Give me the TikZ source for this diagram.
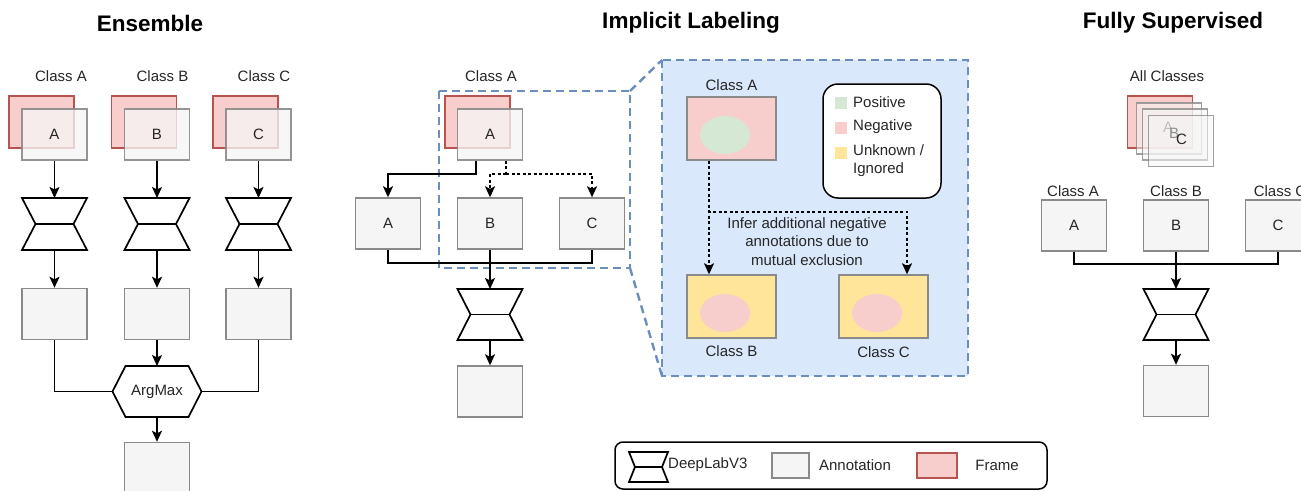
\documentclass[tikz,border=0pt]{standalone}
\usepackage{fontspec}
\setmainfont{Liberation Sans}
\usetikzlibrary{arrows.meta,calc,shapes.geometric}

\definecolor{annofill}{HTML}{F5F5F5}
\definecolor{annodraw}{HTML}{8A8A8A}
\definecolor{framefill}{HTML}{F8CECC}
\definecolor{framedraw}{HTML}{B85450}
\definecolor{panelfill}{HTML}{DAE8FC}
\definecolor{paneledge}{HTML}{6C8EBF}
\definecolor{posfill}{HTML}{D5E8D4}
\definecolor{negfill}{HTML}{F8CECC}
\definecolor{unkfill}{HTML}{FFE599}

\tikzset{
  lbl/.style={font=\fontsize{15}{18.5}\selectfont, inner sep=0, text=black!85},
  ttl/.style={font=\fontsize{22.5}{27}\selectfont\bfseries, inner sep=0},
  anno/.style={draw=annodraw, fill=annofill, line width=1.4pt, minimum width=65pt,
    minimum height=51pt, inner sep=0, font=\fontsize{15}{18}\selectfont, text=black!85},
  annot/.style={anno, fill opacity=0.78, draw opacity=0.9, text opacity=1},
  frm/.style={draw=framedraw, fill=framefill, line width=1.4pt, minimum width=65pt,
    minimum height=52pt, inner sep=0},
  conn/.style={line width=1.7pt, black},
  arr/.style={conn, -{Stealth[length=11pt,width=10pt,inset=2.5pt]}},
  darr/.style={arr, dash pattern=on 3pt off 2.5pt},
  dline/.style={conn, dash pattern=on 3pt off 2.5pt},
  bluedash/.style={draw=paneledge, line width=2.4pt, dash pattern=on 8pt off 5pt},
  swatch/.style={minimum width=12pt, minimum height=12pt, inner sep=0},
  pic/.style={draw=annodraw, line width=1.4pt, minimum width=89pt, minimum height=63pt, inner sep=0},
  blob/.style={ellipse, minimum width=50pt, minimum height=38pt, inner sep=0},
}

% hourglass-shaped network block: name, centre, width, height, waist inset
\newcommand\hglass[5]{%
  \node[inner sep=0, outer sep=0, minimum width=#3, minimum height=#4] (#1) at (#2) {};
  \draw[conn, fill=white, line join=miter] (#1.north west) -- (#1.north east)
    -- ([xshift=-#5]#1.east) -- (#1.south east) -- (#1.south west)
    -- ([xshift=#5]#1.west) -- cycle;
  \draw[conn] ([xshift=#5]#1.west) -- ([xshift=-#5]#1.east);
}

% hexagonal combination block: name, centre, width, height, point inset, text
\newcommand\hexblock[6]{%
  \node[inner sep=0, outer sep=0, minimum width=#3, minimum height=#4] (#1) at (#2) {};
  \draw[conn, fill=white, line join=miter] (#1.west) -- ([xshift=#5]#1.north west)
    -- ([xshift=-#5]#1.north east) -- (#1.east) -- ([xshift=-#5]#1.south east)
    -- ([xshift=#5]#1.south west) -- cycle;
  \node[lbl] at (#1.center) {#6};
}

\begin{document}
\begin{tikzpicture}[x=1pt, y=-1pt]
\useasboundingbox (0,0) rectangle (1301,490);

%% ---------------- Ensemble ----------------
\node[ttl] (tEns) at (150,23) {Ensemble};

\node[lbl] (lEA) at (61,76) {Class A};
\node[lbl] (lEB) at (162.5,76) {Class B};
\node[lbl] (lEC) at (264,76) {Class C};

\node[frm] (fEA) at (41.5,122) {};
\node[annot] (aEA) at (54.5,134.5) {A};
\node[frm] (fEB) at (144,122) {};
\node[annot] (aEB) at (157,134.5) {B};
\node[frm] (fEC) at (245.5,122) {};
\node[annot] (aEC) at (258.5,134.5) {C};

\hglass{hEA}{54.5,224}{65pt}{52pt}{13.5pt}
\hglass{hEB}{157,224}{65pt}{52pt}{13.5pt}
\hglass{hEC}{258.5,224}{65pt}{52pt}{13.5pt}

\node[anno] (oEA) at (54.5,314) {};
\node[anno] (oEB) at (157,314) {};
\node[anno] (oEC) at (258.5,314) {};

\hexblock{amax}{157,391.5}{89pt}{51pt}{13pt}{ArgMax}
\node[anno] (oE) at (157,468) {};

\draw[arr] (aEA.south) -- (hEA.north);
\draw[arr] (aEB.south) -- (hEB.north);
\draw[arr] (aEC.south) -- (hEC.north);
\draw[arr] (hEA.south) -- (oEA.north);
\draw[arr] (hEB.south) -- (oEB.north);
\draw[arr] (hEC.south) -- (oEC.north);
\draw[conn] (oEA.south) |- (amax.west);
\draw[conn] (oEC.south) |- (amax.east);
\draw[arr] (oEB.south) -- (amax.north);
\draw[arr] (amax.south) -- (oE.north);

%% ---------------- Implicit Labeling ----------------
\node[ttl] (tImp) at (691,23) {Implicit Labeling};

% zoom region and detail panel
\coordinate (zNW) at (439,91);
\coordinate (zNE) at (630,91);
\coordinate (zSE) at (630,268);
\coordinate (zSW) at (439,268);
\coordinate (pNW) at (662,60);
\coordinate (pSE) at (968,376);
\coordinate (pSW) at (662,376);
\draw[bluedash] (zNW) rectangle (zSE);
\draw[bluedash] (zNE) -- (pNW);
\draw[bluedash] (zSE) -- (pSW);
\draw[bluedash, fill=panelfill] (pNW) rectangle (pSE);

\node[lbl] (lIA) at (491,76) {Class A};
\node[frm] (fIA) at (477.5,122) {};
\node[annot] (aIA) at (490,134.5) {A};

\node[anno] (rA) at (388,223.5) {A};
\node[anno] (rB) at (490,223.5) {B};
\node[anno] (rC) at (592,223.5) {C};

\hglass{hI}{490,314.5}{65pt}{51pt}{13pt}
\node[anno] (oI) at (490,391.5) {};

\draw[arr] ([xshift=-14pt]aIA.south) -- ++(0,13) -| (rA.north);
\draw[dline] ([xshift=16pt]aIA.south) -- ++(0,13);
\draw[darr] ([xshift=16pt,yshift=-13pt]aIA.south) -| (rB.north);
\draw[darr] ([xshift=16pt,yshift=-13pt]aIA.south) -| (rC.north);
\draw[conn] (rA.south) -- ++(0,13) -| (rC.south);
\draw[arr] (rB.south) -- (hI.north);
\draw[arr] (hI.south) -- (oI.north);

% detail panel content
\node[lbl] (lPA) at (731.5,85) {Class A};
\node[pic, fill=negfill] (pA) at (731.5,128.5) {};
\node[blob, fill=posfill] (eA) at (725,135) {};

\node[pic, fill=unkfill] (pB) at (731.5,306.5) {};
\node[blob, fill=negfill] (eB) at (725,313) {};
\node[lbl] (lPB) at (731.5,351) {Class B};

\node[pic, fill=unkfill] (pC) at (883.5,306.5) {};
\node[blob, fill=negfill] (eC) at (877,313) {};
\node[lbl] (lPC) at (883.5,352) {Class C};

\draw[darr] ([xshift=-22.5pt]pA.south) -- ([xshift=-22.5pt]pB.north);
\draw[darr] ([xshift=-22.5pt]pA.south) -- ++(0,51) -| ([xshift=23.5pt]pC.north);
\node[lbl, align=center] (infer) at (807,241.5)
  {Infer additional negative\\annotations due to\\mutual exclusion};

% colour key
\node[draw=black, line width=1.5pt, fill=white, rounded corners=15pt,
  minimum width=118pt, minimum height=114pt, inner sep=0] (key) at (882,141) {};
\node[swatch, fill=posfill] (kPos) at (841,102.5) {};
\node[swatch, fill=negfill] (kNeg) at (841,127.5) {};
\node[swatch, fill=unkfill] (kUnk) at (841,153) {};
\node[lbl, anchor=west] (tPos) at (853,102) {Positive};
\node[lbl, anchor=west] (tNeg) at (853,127) {Negative};
\node[lbl, anchor=north west, align=left] (tUnk) at (853,144) {Unknown /\\Ignored};

%% ---------------- Fully Supervised ----------------
\node[ttl] (tFul) at (1173,23) {Fully Supervised};
\node[lbl] (lAll) at (1167,76) {All Classes};

\node[frm] (fF) at (1160,122) {};
\node[anno, fill opacity=0.55, draw opacity=0.8] (sA) at (1169,128.5) {};
\node[anno, fill opacity=0.55, draw opacity=0.8] (sB) at (1175,134.5) {};
\node[anno, fill opacity=0.55, draw opacity=0.8] (sC) at (1181,141) {};
\node[lbl, text=black!25] (cA) at (1168,127) {A};
\node[lbl, text=black!45] (cB) at (1174,133) {B};
\node[lbl, text=black!85] (cC) at (1181.5,139) {C};

\node[lbl] (lFA) at (1073,191) {Class A};
\node[lbl] (lFB) at (1176,191) {Class B};
\node[lbl] (lFC) at (1280,191) {Class C};

\node[anno] (bFA) at (1074,225.5) {A};
\node[anno] (bFB) at (1176,225.5) {B};
\node[anno] (bFC) at (1278,225.5) {C};

\hglass{hF}{1176,314.5}{65pt}{51pt}{13pt}
\node[anno] (oF) at (1176,391) {};

\draw[conn] (bFA.south) -- ++(0,12) -| (bFC.south);
\draw[arr] (bFB.south) -- (hF.north);
\draw[arr] (hF.south) -- (oF.north);

%% ---------------- Legend ----------------
\node[draw=black, line width=1.5pt, rounded corners=8pt, minimum width=432pt,
  minimum height=47pt, inner sep=0] (leg) at (831,465.5) {};
\hglass{hL}{648.5,467}{39pt}{30pt}{6pt}
\node[lbl, anchor=west] (tL1) at (668,465) {DeepLabV3};
\node[anno, minimum width=37pt, minimum height=25pt] (aL) at (790.5,465.5) {};
\node[lbl] (tL2) at (855,465) {Annotation};
\node[frm, minimum width=40pt, minimum height=25pt] (fL) at (937,465.5) {};
\node[lbl] (tL3) at (997,465) {Frame};

\end{tikzpicture}
\end{document}
